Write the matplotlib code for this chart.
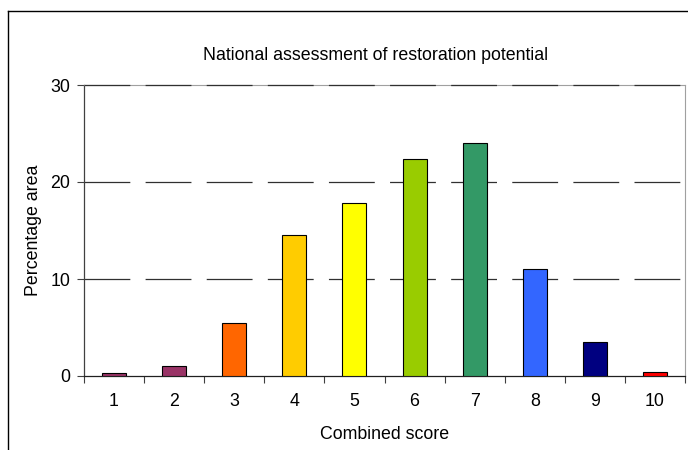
import matplotlib
matplotlib.use("Agg")
import matplotlib.pyplot as plt
from matplotlib.lines import Line2D

categories = ["1", "2", "3", "4", "5", "6", "7", "8", "9", "10"]
values = [0.3, 1.0, 5.5, 14.5, 17.8, 22.4, 24.0, 11.0, 3.5, 0.4]
colors = ["#993366", "#993366", "#FF6600", "#FFCC00", "#FFFF00",
          "#99CC00", "#339966", "#3366FF", "#000080", "#FF0000"]
yticks = [0, 10, 20, 30]

plt.rcParams['font.family'] = ['Liberation Sans', 'DejaVu Sans']
plt.rcParams['lines.scale_dashes'] = False

fs = 12.8
fig = plt.figure(figsize=(6.88, 4.5), dpi=100)
ax = fig.add_axes([84/688, 1 - 376/450, (685 - 84)/688, (376 - 85)/450])

x = list(range(len(categories)))
ax.bar(x, values, width=0.4, color=colors, edgecolor="black", linewidth=0.8, zorder=3)

ax.set_xlim(-0.5, len(categories) - 0.5)
ax.set_ylim(0, 30)
ax.set_yticks(yticks)
ax.set_yticklabels([str(t) for t in yticks], fontsize=fs)
ax.set_xticks(x)
ax.set_xticklabels(categories, fontsize=fs)
ax.tick_params(axis='x', length=0, pad=12)
ax.set_xticks([i - 0.5 for i in range(len(categories) + 1)], minor=True)
ax.tick_params(axis='x', which='minor', length=5, color="#404040", width=0.8)
ax.tick_params(axis='y', length=5, color="#404040", width=0.8, pad=5)

for s in ["top", "right"]:
    ax.spines[s].set_color("#A0A0A0")
    ax.spines[s].set_linewidth(0.8)
ax.spines["left"].set_color("#404040")
ax.spines["bottom"].set_color("#202020")
ax.spines["left"].set_linewidth(0.9)
ax.spines["bottom"].set_linewidth(0.9)

for t in [10, 20, 30]:
    ax.axhline(t, color="#303030", lw=0.9, dashes=(33, 11), zorder=4 if t == 30 else 1,
               clip_on=False)

ax.set_xlabel("Combined score", fontsize=fs, labelpad=12)
ax.set_ylabel("Percentage area", fontsize=fs, labelpad=6)
fig.text(376/688, 1 - 56/450, "National assessment of restoration potential",
         ha="center", va="center", fontsize=fs)

fx = 8/688
fy = 1 - 11/450
fig.add_artist(Line2D([fx, fx], [0, fy], transform=fig.transFigure, color="black", lw=1))
fig.add_artist(Line2D([fx, 1.0], [fy, fy], transform=fig.transFigure, color="black", lw=1))

fig.savefig("out.png", dpi=100)
